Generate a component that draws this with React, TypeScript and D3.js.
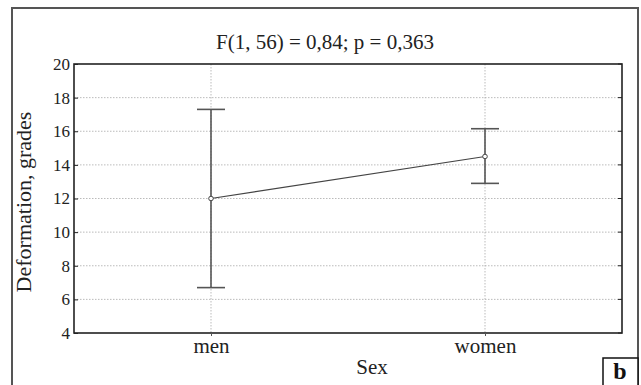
import React, { useEffect, useRef } from "react";
import * as d3 from "d3";

const categories = ["men", "women"];
const means = [12.0, 14.5];
const upper = [17.3, 16.15];
const lower = [6.7, 12.9];
const yTicks = [4, 6, 8, 10, 12, 14, 16, 18, 20];
const title = "F(1, 56) = 0,84; p = 0,363";

const App = () => {
  const svgRef = useRef<SVGSVGElement>(null);

  useEffect(() => {
    const W = 641;
    const H = 385;
    const margin = { top: 64, right: 19, bottom: 52, left: 74 };
    const width = W - margin.left - margin.right;
    const height = H - margin.top - margin.bottom;
    const font = "'Liberation Serif', 'Times New Roman', serif";

    const root = d3.select(svgRef.current);
    root.selectAll("*").remove();
    root.attr("width", W).attr("height", H);

    root.append("rect").attr("width", W).attr("height", H).style("fill", "#fff");

    // outer frame
    root
      .append("path")
      .attr("d", `M12,${H} V8 H638 V${H}`)
      .style("fill", "none")
      .style("stroke", "#555")
      .style("stroke-width", 2);

    const svg = root.append("g").attr("transform", `translate(${margin.left},${margin.top})`);

    const x = d3.scalePoint().domain(categories).range([0, width]).padding(0.5);
    const y = d3.scaleLinear().domain([4, 20]).range([height, 0]);

    // grid
    svg
      .selectAll(".hgrid")
      .data(yTicks.slice(1, -1))
      .enter()
      .append("line")
      .attr("x1", 0)
      .attr("x2", width)
      .attr("y1", (d) => y(d))
      .attr("y2", (d) => y(d))
      .style("stroke", "#aaa")
      .style("stroke-width", 0.8)
      .style("stroke-dasharray", "1.5,1.5");

    svg
      .selectAll(".vgrid")
      .data(categories)
      .enter()
      .append("line")
      .attr("x1", (d) => x(d)!)
      .attr("x2", (d) => x(d)!)
      .attr("y1", 0)
      .attr("y2", height)
      .style("stroke", "#aaa")
      .style("stroke-width", 0.8)
      .style("stroke-dasharray", "1.5,1.5");

    // plot border
    svg
      .append("rect")
      .attr("width", width)
      .attr("height", height)
      .style("fill", "none")
      .style("stroke", "#222")
      .style("stroke-width", 1.6);

    // right side ticks
    svg
      .selectAll(".rtick")
      .data(yTicks)
      .enter()
      .append("line")
      .attr("x1", width - 4)
      .attr("x2", width)
      .attr("y1", (d) => y(d))
      .attr("y2", (d) => y(d))
      .style("stroke", "#222");

    const yAxis = d3.axisLeft(y).tickValues(yTicks).tickSize(-4).tickPadding(4);
    const gy = svg.append("g").call(yAxis);
    gy.select(".domain").remove();
    gy.selectAll("text").style("font-family", font).style("font-size", "17px").style("fill", "#222");
    gy.selectAll("line").style("stroke", "#222");

    const xAxis = d3.axisBottom(x).tickSize(3).tickPadding(2);
    const gx = svg.append("g").attr("transform", `translate(0,${height})`).call(xAxis);
    gx.select(".domain").remove();
    gx.selectAll("text").style("font-family", font).style("font-size", "21px").style("fill", "#222");
    gx.selectAll("line").style("stroke", "#555");

    // mean line
    const line = d3
      .line<number>()
      .x((d, i) => x(categories[i])!)
      .y((d) => y(d));

    svg
      .append("path")
      .datum(means)
      .attr("d", line)
      .style("fill", "none")
      .style("stroke", "#444")
      .style("stroke-width", 1.2);

    // error bars
    const cap = 14;
    categories.forEach((c, i) => {
      const cx = x(c)!;
      svg
        .append("line")
        .attr("x1", cx)
        .attr("x2", cx)
        .attr("y1", y(upper[i]))
        .attr("y2", y(lower[i]))
        .style("stroke", "#555")
        .style("stroke-width", 1.6);
      [upper[i], lower[i]].forEach((v) => {
        svg
          .append("line")
          .attr("x1", cx - cap)
          .attr("x2", cx + cap)
          .attr("y1", y(v))
          .attr("y2", y(v))
          .style("stroke", "#555")
          .style("stroke-width", 1.6);
      });
    });

    svg
      .selectAll(".pt")
      .data(means)
      .enter()
      .append("circle")
      .attr("cx", (d, i) => x(categories[i])!)
      .attr("cy", (d) => y(d))
      .attr("r", 2.3)
      .style("fill", "#fff")
      .style("stroke", "#444")
      .style("stroke-width", 1);

    // title
    root
      .append("text")
      .attr("x", 325)
      .attr("y", 49)
      .attr("text-anchor", "middle")
      .style("font-family", font)
      .style("font-size", "21px")
      .style("fill", "#222")
      .text(title);

    // y label
    root
      .append("text")
      .attr("transform", `translate(31,202) rotate(-90)`)
      .attr("text-anchor", "middle")
      .style("font-family", font)
      .style("font-size", "22px")
      .style("fill", "#222")
      .text("Deformation, grades");

    // x label
    root
      .append("text")
      .attr("x", 372)
      .attr("y", 374)
      .attr("text-anchor", "middle")
      .style("font-family", font)
      .style("font-size", "21px")
      .style("fill", "#222")
      .text("Sex");

    // panel letter
    root
      .append("rect")
      .attr("x", 603)
      .attr("y", 358)
      .attr("width", 35)
      .attr("height", 30)
      .style("fill", "#fff")
      .style("stroke", "#111")
      .style("stroke-width", 1.5);
    root
      .append("text")
      .attr("x", 620)
      .attr("y", 379)
      .attr("text-anchor", "middle")
      .style("font-family", font)
      .style("font-size", "24px")
      .style("font-weight", "bold")
      .style("fill", "#111")
      .text("b");
  }, []);

  return <svg ref={svgRef} style={{ position: "absolute", left: 0, top: 0, display: "block" }}></svg>;
};

export default App;
